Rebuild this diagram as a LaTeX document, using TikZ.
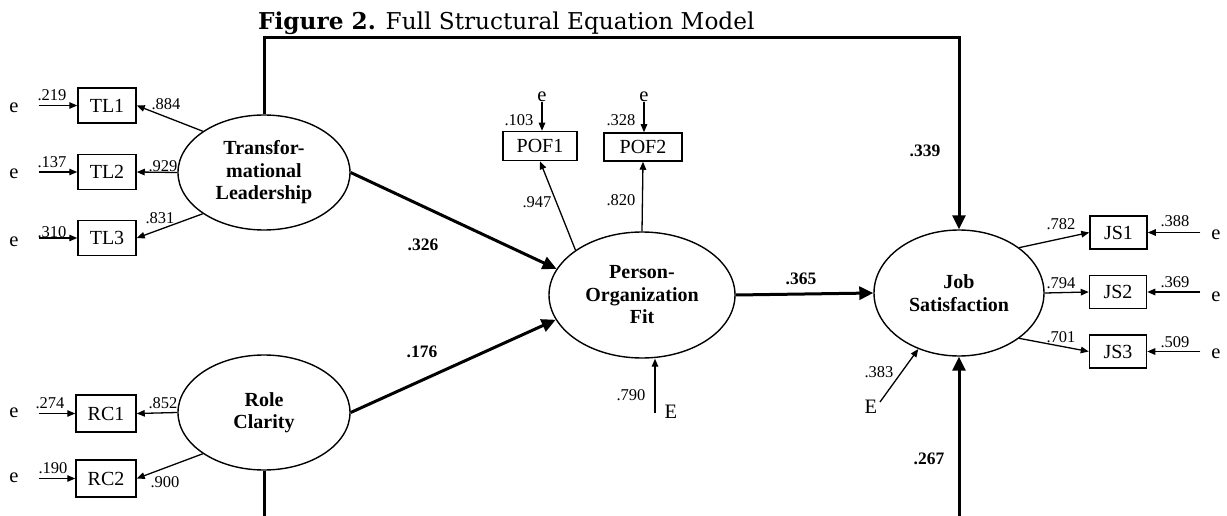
\documentclass[tikz,border=0pt]{standalone}
\usepackage{fontspec}
\setmainfont{Liberation Serif}
\newfontfamily\titlefont{DejaVu Serif}
\usetikzlibrary{shapes.geometric,arrows.meta}
\begin{document}
\begin{tikzpicture}[x=1pt,y=-1pt,
  lat/.style={ellipse,draw,line width=1.4pt,inner sep=0pt,align=center,
    font=\fontsize{20}{22.5}\selectfont\bfseries},
  obs/.style={rectangle,draw,line width=1.5pt,inner sep=0pt,
    font=\fontsize{20}{22}\selectfont},
  num/.style={inner sep=0pt,font=\fontsize{16.5}{18}\selectfont},
  bnum/.style={inner sep=0pt,font=\fontsize{17.5}{19}\selectfont\bfseries},
  err/.style={inner sep=0pt,font=\fontsize{20.5}{22}\selectfont},
  ld/.style={line width=1.3pt,-{Triangle[length=8pt,width=6.5pt]}},
  sp/.style={line width=3pt,-{Triangle[length=14pt,width=13pt]}},
  spl/.style={line width=3pt}]
\useasboundingbox (0,0) rectangle (1227,516);
% title
\node[anchor=base west,inner sep=0pt,font=\titlefont\fontsize{23.2}{26}\selectfont] (title) at (258,30)
  {\textbf{Figure 2.} Full Structural Equation Model};
% latent variables
\node[lat,minimum width=172pt,minimum height=115pt] (tl) at (264,172.5) {Transfor-\\mational\\Leadership};
\node[lat,minimum width=172pt,minimum height=115pt] (rc) at (264,412.5) {Role\\Clarity};
\node[lat,minimum width=186pt,minimum height=126pt] (pof) at (642,295) {Person-\\Organization\\Fit};
\node[lat,minimum width=170pt,minimum height=126pt] (js) at (959,293) {Job\\Satisfaction};
% observed
\node[obs,minimum width=58pt,minimum height=35pt] (TL1) at (107,105.5) {TL1};
\node[obs,minimum width=58pt,minimum height=35pt] (TL2) at (107,172) {TL2};
\node[obs,minimum width=58pt,minimum height=35pt] (TL3) at (107,238) {TL3};
\node[obs,minimum width=60pt,minimum height=37pt] (RC1) at (106,413.5) {RC1};
\node[obs,minimum width=60pt,minimum height=37pt] (RC2) at (106,478.5) {RC2};
\node[obs,minimum width=74pt,minimum height=29pt] (POF1) at (540,146) {POF1};
\node[obs,minimum width=78pt,minimum height=28pt] (POF2) at (643,147) {POF2};
\node[obs,minimum width=57pt,minimum height=33pt] (JS1) at (1118.5,232.5) {JS1};
\node[obs,minimum width=57pt,minimum height=33pt] (JS2) at (1118,292) {JS2};
\node[obs,minimum width=57pt,minimum height=33pt] (JS3) at (1118,351.5) {JS3};
% error terms
\node[err] (e1) at (14,108) {e};
\node[err] (e2) at (14,174) {e};
\node[err] (e3) at (14,242) {e};
\node[err] (e4) at (14,413) {e};
\node[err] (e5) at (14,478) {e};
\node[err] (ep1) at (542,97) {e};
\node[err] (ep2) at (644,97) {e};
\node[err] (ej1) at (1216,235) {e};
\node[err] (ej2) at (1216,297) {e};
\node[err] (ej3) at (1216,354) {e};
\node[err] (Ep) at (671,412) {E};
\node[err] (Ej) at (871,407) {E};
\coordinate (Eps) at (655,413);
\coordinate (Ejs) at (880,402);
\coordinate (topbar) at (0,38);
\coordinate (bot) at (0,516);
% error arrows
\draw[ld] ([xshift=20pt]e1.east |- TL1.west) -- (TL1.west);
\draw[ld] ([xshift=20pt]e2.east |- TL2.west) -- (TL2.west);
\draw[ld] ([xshift=20pt]e3.east |- TL3.west) -- (TL3.west);
\draw[ld] ([xshift=20pt]e4.east |- RC1.west) -- (RC1.west);
\draw[ld] ([xshift=20pt]e5.east |- RC2.west) -- (RC2.west);
\draw[ld] (ep1.south) -- (ep1.south |- POF1.north);
\draw[ld] (ep2.south) -- (ep2.south |- POF2.north);
\draw[ld] ([xshift=-11pt]ej1.west |- JS1.east) -- (JS1.east);
\draw[ld] ([xshift=-11pt]ej2.west |- JS2.east) -- (JS2.east);
\draw[ld] ([xshift=-11pt]ej3.west |- JS3.east) -- (JS3.east);
\draw[ld] (Eps) -- (Eps |- pof.south);
\draw[ld] (Ejs) -- (js.234);
% loadings
\draw[ld] (tl.146) -- (TL1.east);
\draw[ld] (tl.west) -- (TL2.east);
\draw[ld] (tl.214) -- (TL3.east);
\draw[ld] (rc.west) -- (RC1.east);
\draw[ld] (rc.214) -- (RC2.east);
\draw[ld] (pof.146) -- (POF1.south);
\draw[ld] (pof.north) -- (POF2.south);
\draw[ld] (js.37) -- (JS1.west);
\draw[ld] (js.east) -- (JS2.west);
\draw[ld] (js.323) -- (JS3.west);
% structural paths
\draw[sp] (tl.east) -- (pof.163);
\draw[sp] (rc.east) -- (pof.196);
\draw[sp] (pof.east) -- (js.west);
\draw[sp] (tl.north) -- (tl.north |- topbar) -| (js.north);
\draw[spl] (rc.south) -- (rc.south |- bot);
\draw[sp] (js.south |- bot) -- (js.south);
% values
\node[num] at (52,95) {.219};
\node[num] at (52,162) {.137};
\node[num] at (52,232) {.310};
\node[num] at (50,403) {.274};
\node[num] at (53,468) {.190};
\node[num] at (166,104) {.884};
\node[num] at (163,166) {.929};
\node[num] at (160,218) {.831};
\node[num] at (163,403) {.852};
\node[num] at (165,482) {.900};
\node[num] at (519,120) {.103};
\node[num] at (621,120) {.328};
\node[num] at (537,202) {.947};
\node[num] at (621,200) {.820};
\node[num] at (631,395) {.790};
\node[num] at (1061,224) {.782};
\node[num] at (1061,283) {.794};
\node[num] at (1061,337) {.701};
\node[num] at (1175,221) {.388};
\node[num] at (1175,282) {.369};
\node[num] at (1175,342) {.509};
\node[num] at (879,372) {.383};
\node[bnum] at (423,245) {.326};
\node[bnum] at (422,352) {.176};
\node[bnum] at (801,279) {.365};
\node[bnum] at (925,151) {.339};
\node[bnum] at (929,459) {.267};
\end{tikzpicture}
\end{document}
